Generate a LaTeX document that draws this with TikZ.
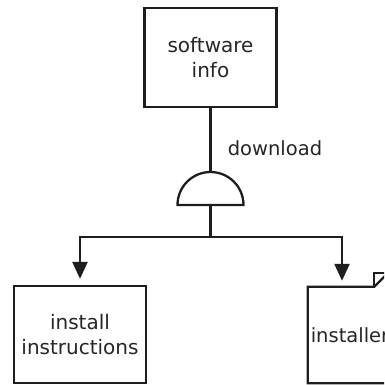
\documentclass[tikz,border=0pt]{standalone}
\usepackage{fontspec}
\setmainfont{DejaVu Sans}
\usetikzlibrary{arrows.meta}
\definecolor{ink}{HTML}{1E1E1E}
\definecolor{txt}{HTML}{262626}
\tikzset{
  x=1pt, y=-1pt,
  wire/.style={draw=ink, line width=2.3pt},
  boxnode/.style={draw=ink, line width=2.3pt, fill=white, minimum width=132pt,
    inner sep=0pt, align=center, text=txt,
    font=\fontsize{20}{25}\selectfont},
  lbl/.style={text=txt, inner sep=0pt, font=\fontsize{19.5}{24}\selectfont},
  arrowline/.style={wire, -{Triangle[length=17pt,width=15pt]}, shorten >=6pt},
}
\begin{document}
\begin{tikzpicture}
\useasboundingbox (0,0) rectangle (384,385);
\clip (0,0) rectangle (384,385);

% top box
\node[boxnode, minimum height=99pt] (sw) at (210.5,57.5) {software\\info};

% AND gate: flat chord at the bottom, dome on top
\coordinate (gtop) at (210.5,172);
\coordinate (gbot) at (210.5,205);
\coordinate (split) at (210.5,237);
\draw[wire] (gbot) -- (split);
\draw[wire, fill=white] (177.5,205) arc[start angle=180, end angle=360, radius=33] -- cycle;
\node[lbl, anchor=center] (dl) at (275,148) {download};

% outputs
\node[boxnode, minimum height=97pt] (inst) at (80,334.5) {install\\instructions};
\node[inner sep=0pt, minimum width=80pt, minimum height=96pt] (pkg) at (348,335) {};
\draw[wire, line join=miter, fill=white]
  (pkg.north west) -- ([xshift=-14pt]pkg.north east) -- ([yshift=14pt]pkg.north east)
  -- (pkg.south east) -- (pkg.south west) -- cycle;
\draw[wire, line join=miter]
  ([xshift=-14pt]pkg.north east) |- ([yshift=14pt]pkg.north east);
\node[lbl] (pkgtxt) at (350,335) {installer};

% connectors
\draw[wire] (sw.south) -- (gtop);
\draw[arrowline] (split) -| (inst.north);
\draw[arrowline] (split) -| ([xshift=-6pt]pkg.north);
\end{tikzpicture}
\end{document}
